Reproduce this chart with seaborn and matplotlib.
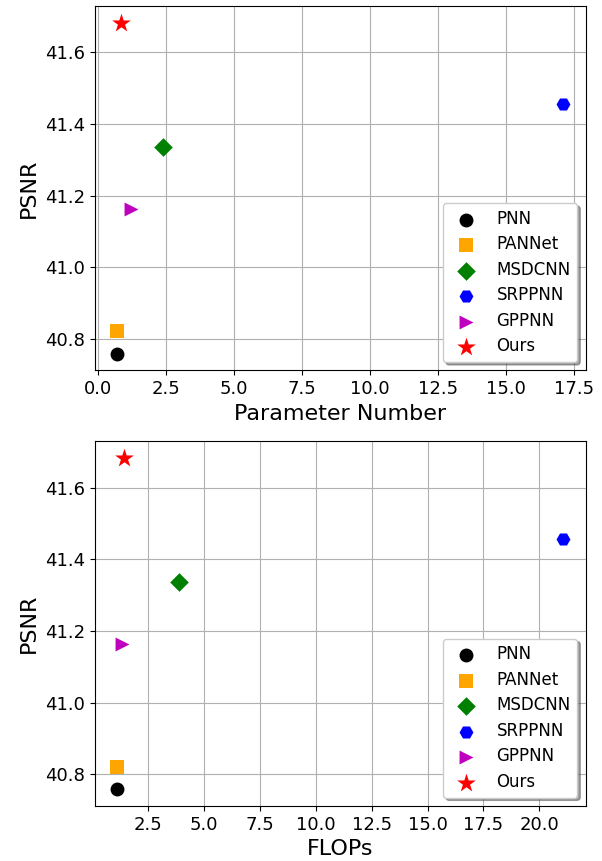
import matplotlib
matplotlib.use("Agg")
import matplotlib.pyplot as plt
import seaborn as sns
import pandas as pd

methods = ["PNN", "PANNet", "MSDCNN", "SRPPNN", "GPPNN", "Ours"]
params = [0.69, 0.70, 2.38, 17.11, 1.20, 0.84]
flops = [1.10, 1.11, 3.88, 21.08, 1.32, 1.40]
psnr = [40.758, 40.821, 41.336, 41.456, 41.163, 41.683]
markers = ["o", "s", "D", "H", ">", "*"]
colors = ["black", "orange", "green", "blue", "m", "red"]
sizes = [100, 100, 90, 100, 100, 200]

df = pd.DataFrame({"method": methods, "params": params, "flops": flops, "psnr": psnr})

plt.rcParams["font.family"] = ["DejaVu Sans"]
fig, axes = plt.subplots(2, 1, figsize=(6.02, 8.61), dpi=100)
fig.subplots_adjust(left=0.157, right=0.973, top=0.993, bottom=0.064, hspace=0.195)

for ax, xcol, xlabel in zip(axes, ["params", "flops"], ["Parameter Number", "FLOPs"]):
    for i, m in enumerate(methods):
        sub = df[df["method"] == m]
        sns.scatterplot(data=sub, x=xcol, y="psnr", ax=ax, marker=markers[i],
                        color=colors[i], s=sizes[i], linewidth=0, label=m, legend=False)
    ax.grid(True, color="#b0b0b0", linewidth=0.8)
    ax.set_axisbelow(True)
    ax.set_xlabel(xlabel, fontsize=16)
    ax.set_ylabel("PSNR", fontsize=16)
    ax.tick_params(labelsize=13)
    ax.legend(loc="lower right", shadow=True, fontsize=12, labelspacing=0.45)

fig.savefig("out.png", dpi=100)
